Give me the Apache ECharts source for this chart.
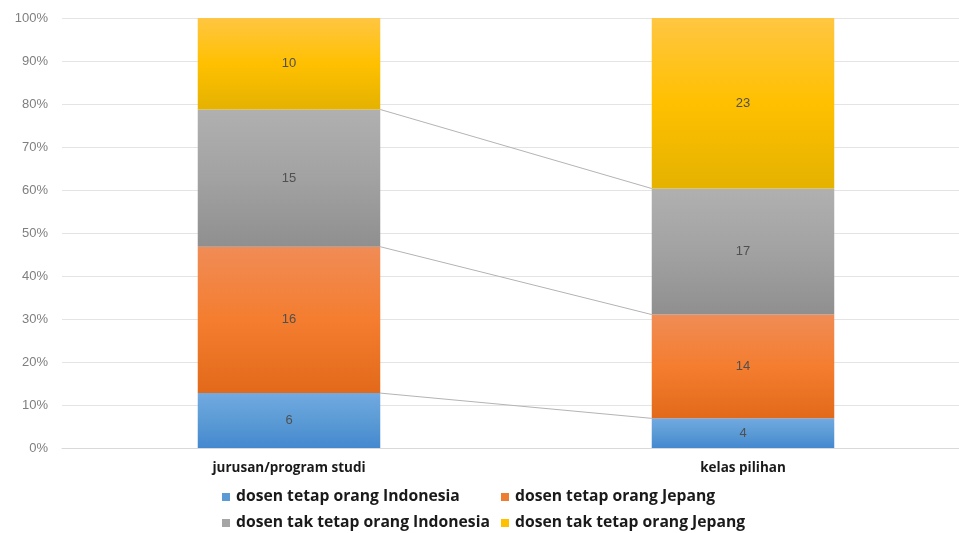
<!DOCTYPE html>
<html>
<head>
<meta charset="utf-8">
<script src="https://cdn.jsdelivr.net/npm/echarts@6/dist/echarts.min.js"></script>
<style>html,body{margin:0;padding:0;background:#fff}#c{width:959px;height:533px}</style>
</head>
<body>
<div id="c"></div>
<script>
var categories = ['jurusan/program studi', 'kelas pilihan'];
var seriesNames = ['dosen tetap orang Indonesia', 'dosen tetap orang Jepang', 'dosen tak tetap orang Indonesia', 'dosen tak tetap orang Jepang'];
var tetapIndonesia = [6, 4];
var tetapJepang = [16, 14];
var takTetapIndonesia = [15, 17];
var takTetapJepang = [10, 23];
var yTicks = ['0%', '10%', '20%', '30%', '40%', '50%', '60%', '70%', '80%', '90%', '100%'];

var raw = [tetapIndonesia, tetapJepang, takTetapIndonesia, takTetapJepang];
var totals = categories.map(function (_, i) { return raw.reduce(function (s, a) { return s + a[i]; }, 0); });
var pct = raw.map(function (arr) { return arr.map(function (v, i) { return v / totals[i] * 100; }); });

function grad(c0, c1, c2) {
  return new echarts.graphic.LinearGradient(0, 0, 0, 1, [
    { offset: 0, color: c0 }, { offset: 0.5, color: c1 }, { offset: 1, color: c2 }
  ]);
}
var fills = [
  grad('#72a9e1', '#5b9bd5', '#4488cf'),
  grad('#f08c56', '#f47d2f', '#e2691a'),
  grad('#b0b0b0', '#a2a2a2', '#8f8f8f'),
  grad('#ffc642', '#ffc000', '#e4b200')
];
var iconColors = ['#5b9bd5', '#ed7d31', '#a5a5a5', '#ffc000'];

var levels = [];
for (var k = 0; k < 3; k++) {
  var a = 0, b = 0;
  for (var j = 0; j <= k; j++) { a += pct[j][0]; b += pct[j][1]; }
  levels.push([a, b]);
}

var BAR_RATIO = 0.402;
var series = raw.map(function (arr, si) {
  return {
    name: seriesNames[si],
    type: 'bar',
    stack: 'total',
    barWidth: (BAR_RATIO * 100) + '%',
    itemStyle: { color: fills[si] },
    label: {
      show: true,
      position: 'inside',
      color: '#505050',
      fontSize: 13,
      fontFamily: 'Liberation Sans',
      formatter: function (p) { return arr[p.dataIndex]; }
    },
    data: pct[si],
    z: 3
  };
});
series.push({
  type: 'custom',
  name: 'connectors',
  silent: true,
  z: 2,
  data: levels,
  renderItem: function (params, api) {
    var y1 = api.value(0), y2 = api.value(1);
    var p1 = api.coord([0, y1]);
    var p2 = api.coord([1, y2]);
    var half = api.size([1, 0])[0] * BAR_RATIO / 2;
    return {
      type: 'line',
      shape: { x1: p1[0] + half, y1: p1[1], x2: p2[0] - half, y2: p2[1] },
      style: { stroke: '#b4b4b4', lineWidth: 1 }
    };
  },
  encode: { x: -1, y: [0, 1] }
});

function legendAt(idx, left, top) {
  return {
    orient: 'horizontal',
    left: left,
    top: top,
    itemWidth: 8,
    itemHeight: 8,
    icon: 'rect',
    padding: 0,
    textStyle: { fontSize: 15.7, color: '#1a1a1a', fontWeight: 'bold', fontFamily: 'Open Sans', padding: [0, 0, 0, 1] },
    data: [{ name: seriesNames[idx], itemStyle: { color: iconColors[idx] } }]
  };
}

var chart = echarts.init(document.getElementById('c'));
chart.setOption({
  animation: false,
  backgroundColor: '#ffffff',
  grid: { left: 62, top: 18, right: -11, bottom: 85, outerBoundsMode: 'none' },
  legend: [legendAt(0, 222, 489), legendAt(1, 501, 489), legendAt(2, 222, 515), legendAt(3, 501, 515)],
  xAxis: {
    type: 'category',
    data: categories,
    axisLine: { show: true, lineStyle: { color: '#d9d9d9' } },
    axisTick: { show: false },
    axisLabel: { color: '#1a1a1a', fontSize: 13.5, fontWeight: 'bold', fontFamily: 'Open Sans', margin: 13 }
  },
  yAxis: {
    type: 'value',
    min: 0,
    max: 100,
    interval: 10,
    axisLine: { show: false },
    axisTick: { show: false },
    splitLine: { lineStyle: { color: '#e4e4e4' } },
    axisLabel: {
      color: '#7f7f7f', fontSize: 13, fontFamily: 'Liberation Sans', margin: 14,
      formatter: function (v) { return yTicks[Math.round(v / 10)]; }
    }
  },
  series: series
});
</script>
</body>
</html>
